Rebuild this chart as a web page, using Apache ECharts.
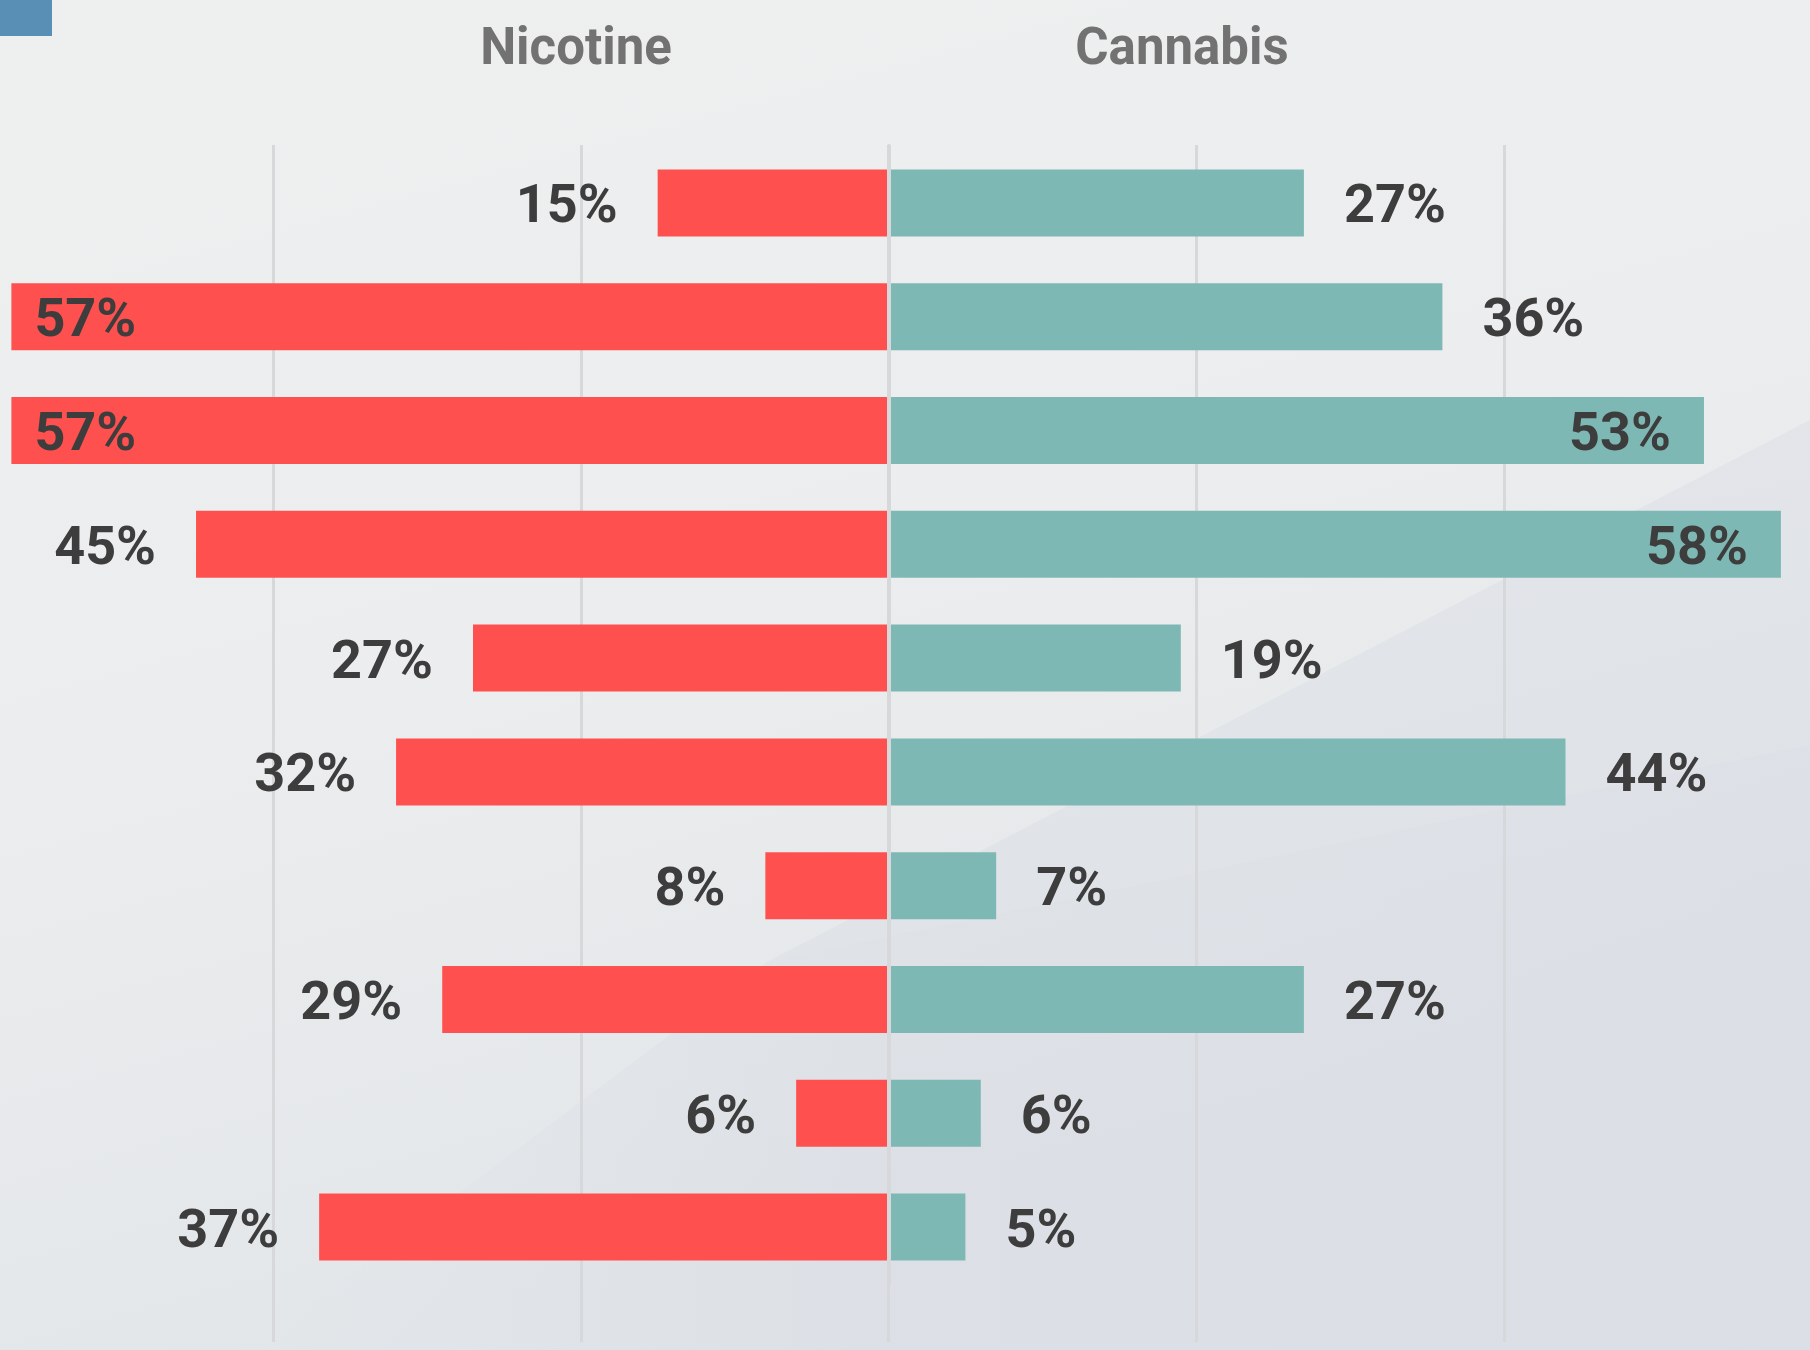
<!DOCTYPE html>
<html>
<head>
<meta charset="utf-8">
<script src="https://cdn.jsdelivr.net/npm/echarts@6/dist/echarts.min.js"></script>
<style>
html, body { margin: 0; padding: 0; }
#chart { width: 1810px; height: 1350px; }
</style>
</head>
<body>
<div id="chart"></div>
<script>
// rows have no visible labels in the picture
const categories = ['A', 'B', 'C', 'D', 'E', 'F', 'G', 'H', 'I', 'J']
const nicotine = [15, 57, 57, 45, 27, 32, 8, 29, 6, 37]
const cannabis = [27, 36, 53, 58, 19, 44, 7, 27, 6, 5]
const seriesNames = ['Nicotine', 'Cannabis']

const labelFont = {
    fontFamily: 'Roboto',
    fontWeight: 'bold',
    fontSize: 54,
    color: '#3d3d3d'
}

const chart = echarts.init(document.getElementById('chart'))

// long bars carry their label inside the bar
const buildData = (values, sign, outside, inside) => values.map(v => ({
    value: sign * v,
    label: v >= 50
        ? { position: inside, distance: inside === 'insideLeft' ? 23 : 33 }
        : { position: outside, distance: 40 }
}))

const option = {
    backgroundColor: {
        type: 'linear', x: 0, y: 0, x2: 0.2, y2: 1,
        colorStops: [
            { offset: 0, color: '#eef0f0' },
            { offset: 0.55, color: '#ebedee' },
            { offset: 1, color: '#e3e6e9' }
        ]
    },
    animation: false,
    graphic: [
        {
            type: 'polygon', z: -10, silent: true,
            shape: { points: [[767, 962], [1810, 420], [1810, 745]] },
            style: { fill: 'rgba(208,213,224,0.28)' }
        },
        {
            type: 'polygon', z: -10, silent: true,
            shape: { points: [[767, 962], [1810, 745], [1810, 1350], [250, 1350]] },
            style: {
                fill: {
                    type: 'linear', x: 0, y: 0, x2: 1, y2: 0,
                    colorStops: [
                        { offset: 0, color: 'rgba(205,210,222,0)' },
                        { offset: 0.4, color: 'rgba(205,210,222,0.3)' },
                        { offset: 1, color: 'rgba(205,210,222,0.34)' }
                    ]
                }
            }
        },
        {
            type: 'rect', z: 10,
            shape: { x: 0, y: 0, width: 52, height: 36 },
            style: { fill: '#5a8fb5' }
        },
        {
            type: 'text', z: 10, x: 576, y: 51,
            style: {
                text: seriesNames[0], fill: '#727272', font: 'bold 51px Roboto',
                textAlign: 'center', textVerticalAlign: 'middle'
            }
        },
        {
            type: 'text', z: 10, x: 1182, y: 51,
            style: {
                text: seriesNames[1], fill: '#727272', font: 'bold 51px Roboto',
                textAlign: 'center', textVerticalAlign: 'middle'
            }
        }
    ],
    grid: [
        { left: 273, right: 306, top: 145, bottom: 8 },
        { left: 0, right: 0, top: 146, bottom: 66 }
    ],
    xAxis: [
        {
            gridIndex: 0,
            type: 'value',
            min: -40,
            max: 40,
            interval: 20,
            axisLine: { show: false },
            axisTick: { show: false },
            axisLabel: { show: false },
            splitLine: { lineStyle: { color: '#d6d8d9', width: 3 } }
        },
        {
            gridIndex: 1,
            type: 'value',
            min: -57.74,
            max: 59.89,
            axisLine: { show: false },
            axisTick: { show: false },
            axisLabel: { show: false },
            splitLine: { show: false }
        }
    ],
    yAxis: [
        {
            gridIndex: 0,
            type: 'value',
            show: false
        },
        {
            gridIndex: 1,
            type: 'category',
            inverse: true,
            data: categories,
            z: 5,
            axisTick: { show: false },
            axisLabel: { show: false },
            axisLine: { show: true, onZero: true, lineStyle: { color: '#d6d8d9', width: 4 } }
        }
    ],
    series: [
        {
            name: seriesNames[0],
            type: 'bar',
            xAxisIndex: 1,
            yAxisIndex: 1,
            barWidth: 67,
            barGap: '-100%',
            itemStyle: { color: '#ff5050' },
            label: {
                show: true,
                offset: [0, 6],
                formatter: p => Math.abs(p.value) + '%',
                ...labelFont
            },
            data: buildData(nicotine, -1, 'left', 'insideLeft')
        },
        {
            name: seriesNames[1],
            type: 'bar',
            xAxisIndex: 1,
            yAxisIndex: 1,
            barWidth: 67,
            barGap: '-100%',
            itemStyle: { color: '#7eb8b5' },
            label: {
                show: true,
                offset: [0, 6],
                formatter: p => Math.abs(p.value) + '%',
                ...labelFont
            },
            data: buildData(cannabis, 1, 'right', 'insideRight')
        }
    ]
}

chart.setOption(option)
window.addEventListener('resize', () => chart.resize())
</script>
</body>
</html>
